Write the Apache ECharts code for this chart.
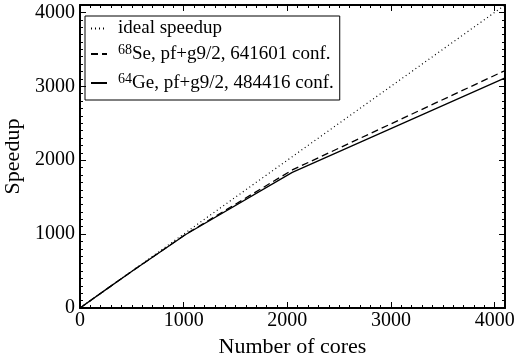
<!DOCTYPE html>
<html>
<head>
<meta charset="utf-8">
<script src="https://cdn.jsdelivr.net/npm/echarts@6/dist/echarts.min.js"></script>
<style>
  html, body { margin: 0; padding: 0; background: #fff; }
  #chart { width: 514px; height: 358px; }
</style>
</head>
<body>
<div id="chart"></div>
<script>
// values
const cores = [0, 256, 512, 1024, 2048, 4096];
const idealSpeedup = [0, 256, 512, 1024, 2048, 4096];
const seSpeedup = [0, 255, 508, 1002, 1868, 3210];
const geSpeedup = [0, 255, 507, 998, 1836, 3110];

const seriesNames = ['ideal', 'se', 'ge'];
const legendText = {
  ideal: '{t|ideal speedup}',
  se: '{sup|68}{t|Se, pf+g9/2, 641601 conf.}',
  ge: '{sup|64}{t|Ge, pf+g9/2, 484416 conf.}'
};

const font = 'Liberation Serif';
const pairs = (ys) => cores.map((c, i) => [c, ys[i]]);

function axis(pos, showLabel, name) {
  return {
    type: 'value',
    position: pos,
    min: 0,
    max: 4100,
    interval: 1000,
    name: name,
    nameLocation: 'middle',
    nameGap: pos === 'left' ? 50 : 23,
    nameTextStyle: { fontFamily: font, fontSize: 22, color: '#000' },
    axisLine: { show: true, onZero: false, lineStyle: { color: '#000', width: 2 } },
    axisTick: { show: true, inside: true, length: 6, lineStyle: { color: '#000', width: 1 } },
    minorTick: { show: true, splitNumber: 10, length: 3, lineStyle: { color: '#000', width: 1 } },
    splitLine: { show: false },
    axisLabel: {
      show: showLabel,
      fontFamily: font,
      fontSize: 20,
      color: '#000',
      margin: pos === 'left' ? 5 : 3,
      formatter: (v) => (v % 1000 === 0 ? String(v) : '')
    }
  };
}

const chart = echarts.init(document.getElementById('chart'));
chart.setOption({
  animation: false,
  color: ['#000', '#000', '#000'],
  grid: { left: 80, right: 9, top: 5, bottom: 50, outerBoundsMode: 'none', containLabel: false },
  xAxis: [axis('bottom', true, 'Number of cores'), axis('top', false, '')],
  yAxis: [axis('left', true, 'Speedup'), axis('right', false, '')],
  legend: {
    left: 85,
    top: 16,
    orient: 'vertical',
    data: seriesNames,
    itemWidth: 16,
    itemHeight: 10,
    itemGap: 5,
    padding: [3, 6, 4, 5],
    borderColor: '#000',
    borderWidth: 1,
    borderRadius: 0,
    itemStyle: { opacity: 0 },
    formatter: (n) => legendText[n],
    textStyle: {
      padding: [0, 0, 0, 6],
      rich: {
        t: { fontFamily: font, fontSize: 19, color: '#000', lineHeight: 22 },
        sup: { fontFamily: font, fontSize: 14, color: '#000', verticalAlign: 'top', lineHeight: 14, padding: [0, 0, 10, 0] }
      }
    }
  },
  series: [
    {
      name: 'ideal', type: 'line', data: pairs(idealSpeedup), symbol: 'none',
      lineStyle: { color: '#000', width: 1.2, type: [1, 3] }
    },
    {
      name: 'se', type: 'line', data: pairs(seSpeedup), symbol: 'none',
      lineStyle: { color: '#000', width: 1.3, type: [7, 4] }
    },
    {
      name: 'ge', type: 'line', data: pairs(geSpeedup), symbol: 'none',
      lineStyle: { color: '#000', width: 1.3, type: 'solid' }
    }
  ]
});
</script>
</body>
</html>
